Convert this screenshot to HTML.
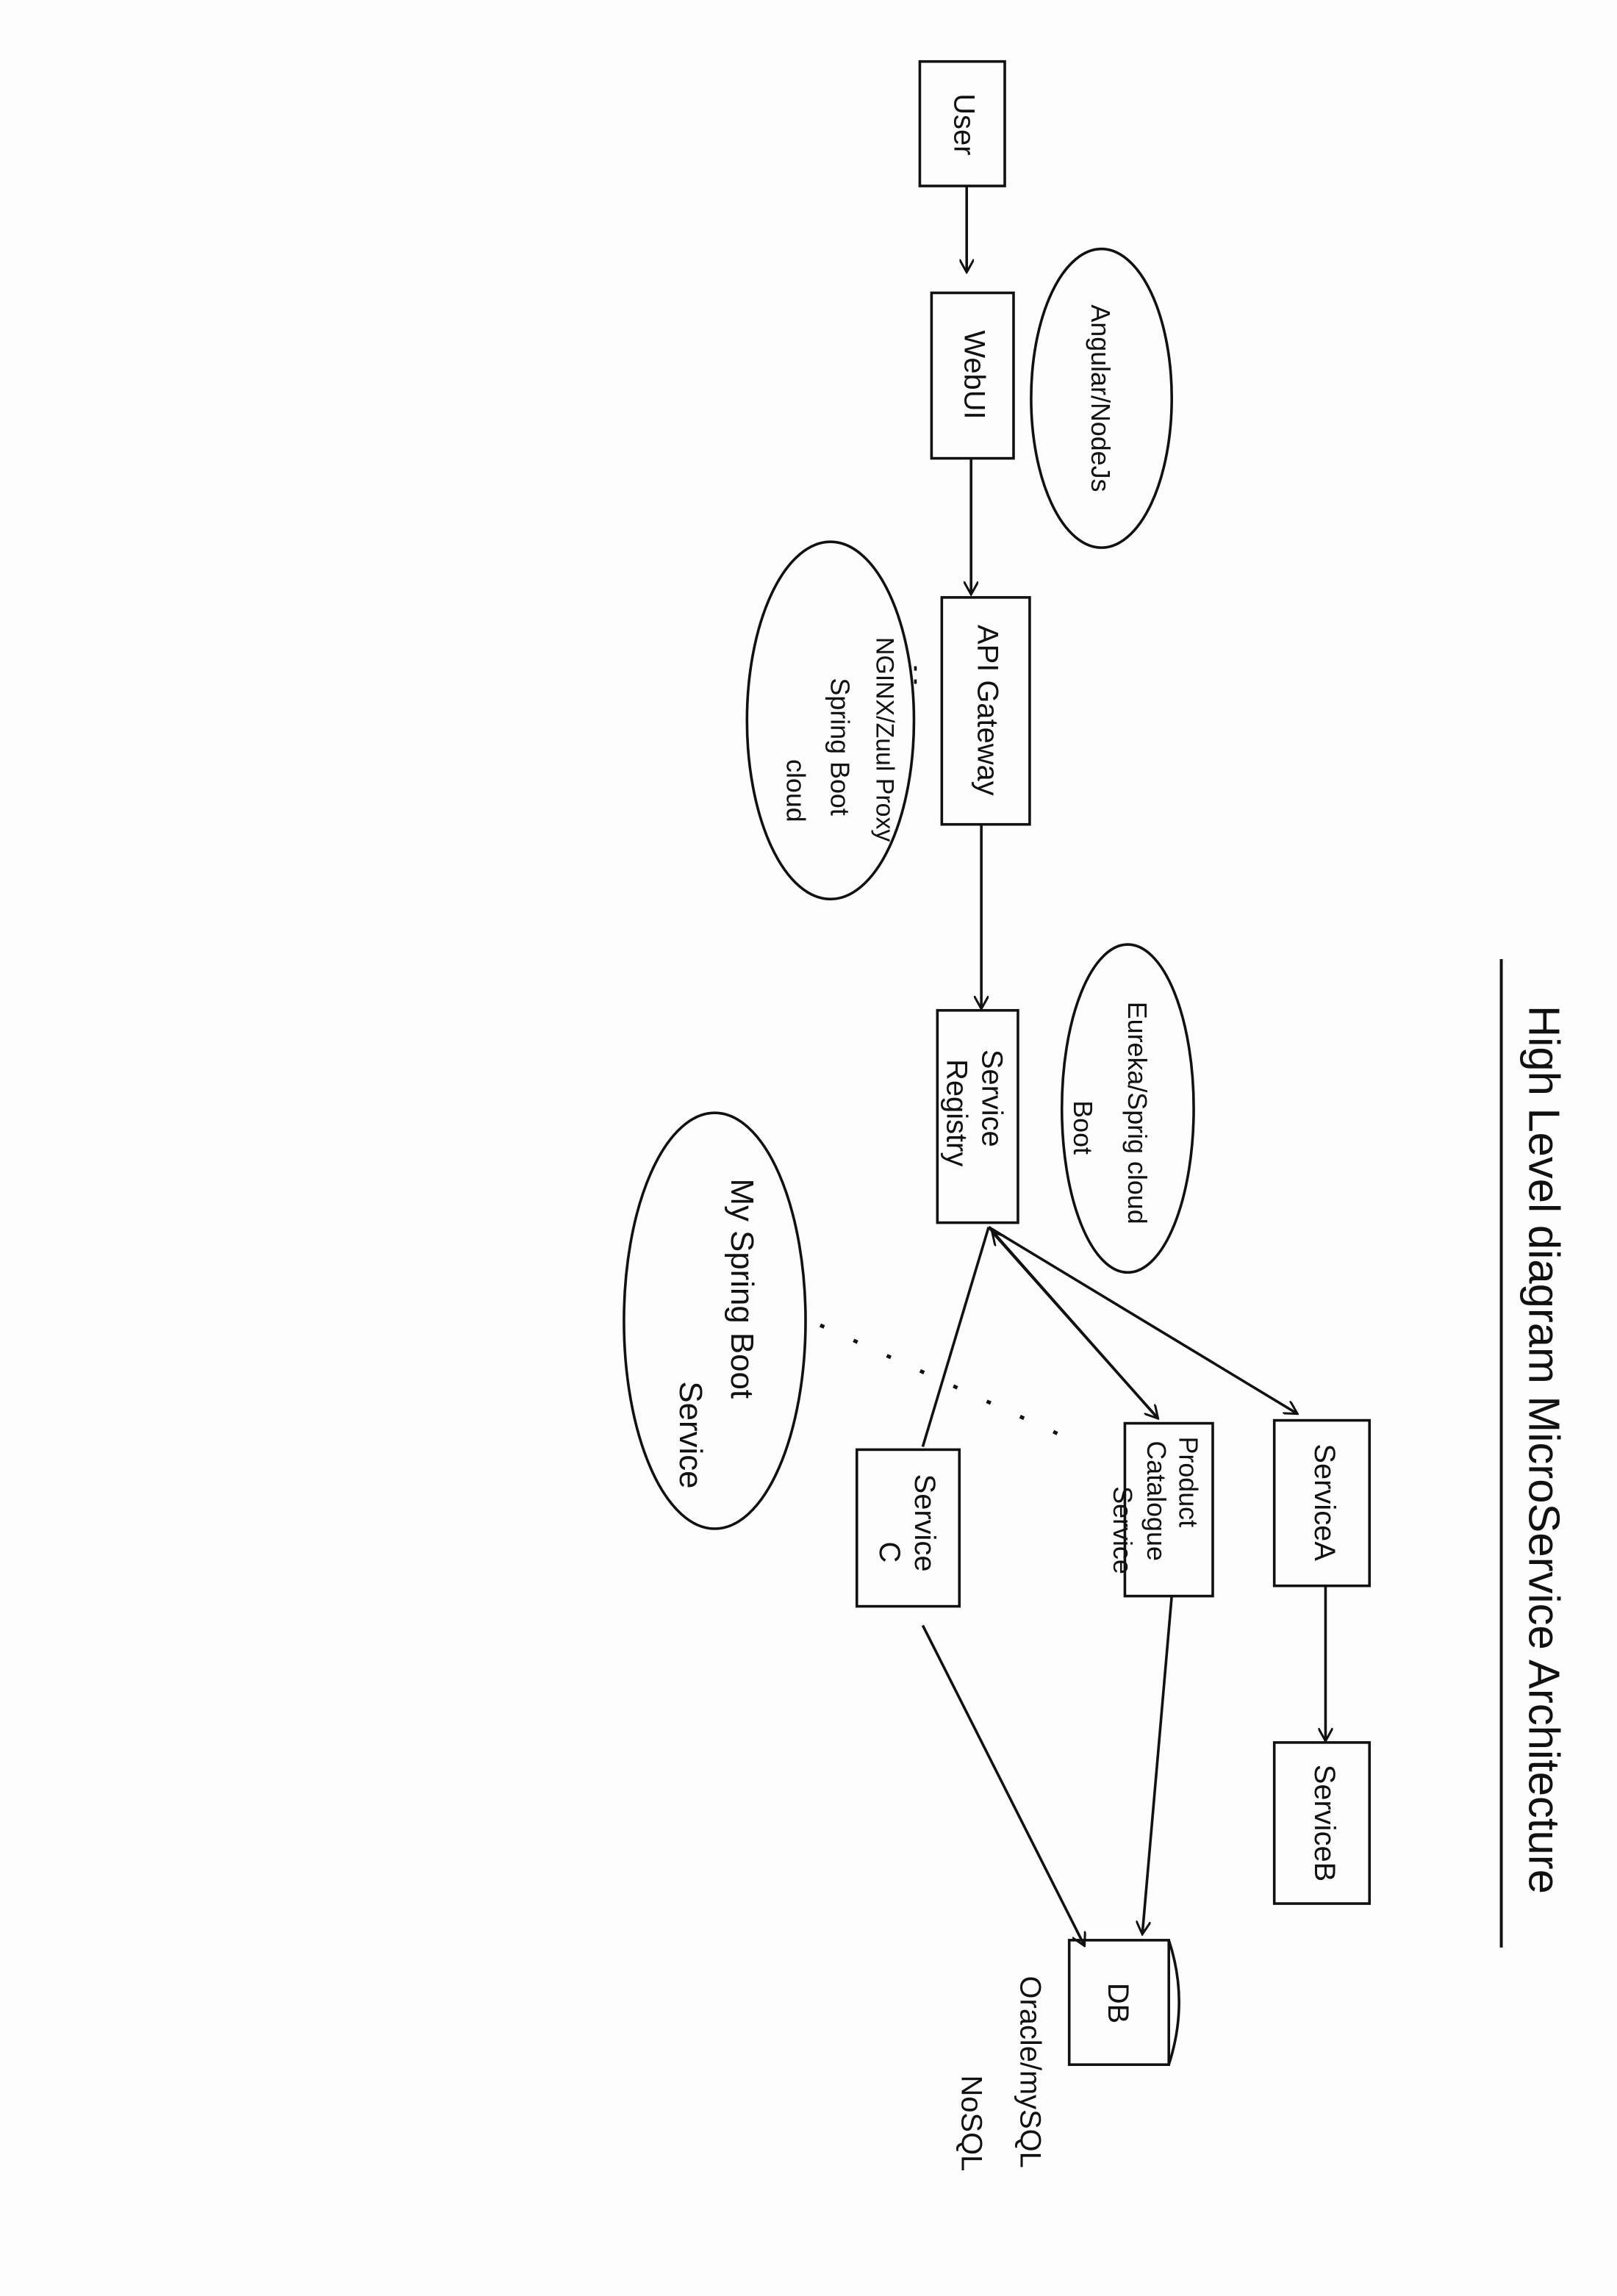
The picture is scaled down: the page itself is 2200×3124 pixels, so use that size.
<!DOCTYPE html>
<html><head><meta charset="utf-8"><style>
html,body{margin:0;padding:0;background:#fdfdfd;}
svg{display:block;}
text{font-family:"Liberation Sans",sans-serif;fill:#111;}
</style></head><body>
<svg width="2200" height="3124" viewBox="0 0 1104 1568" preserveAspectRatio="none" xmlns="http://www.w3.org/2000/svg">
<defs>
<marker id="a" markerWidth="10" markerHeight="10" refX="8" refY="5" orient="auto" markerUnits="userSpaceOnUse"><path d="M0,0 L9,5 L0,10" fill="none" stroke="#111" stroke-width="1.5"/></marker>
</defs>
<rect width="1104" height="1568" fill="#fdfdfd"/>
<g fill="none" stroke="#111" stroke-width="1.8">
<rect x="628" y="42" width="58" height="85"/>
<rect x="636" y="200" width="56" height="113"/>
<rect x="643" y="408" width="60" height="155"/>
<rect x="640" y="690" width="55" height="145"/>
<rect x="870" y="970" width="65" height="113"/>
<rect x="870" y="1190" width="65" height="110"/>
<rect x="768" y="972" width="60" height="118"/>
<rect x="585" y="990" width="70" height="107"/>
<rect x="730" y="1325" width="68" height="85"/>
<path d="M798,1325 Q812,1367 798,1410"/>
<ellipse cx="752" cy="272" rx="48" ry="102"/>
<ellipse cx="567" cy="492" rx="57" ry="122"/>
<ellipse cx="770" cy="757" rx="45" ry="112"/>
<ellipse cx="488" cy="902" rx="62" ry="142"/>
<line x1="660" y1="127" x2="660" y2="185" marker-end="url(#a)"/>
<line x1="663" y1="313" x2="663" y2="405" marker-end="url(#a)"/>
<line x1="670" y1="563" x2="670" y2="688" marker-end="url(#a)"/>
<line x1="675" y1="838" x2="885" y2="965" marker-end="url(#a)"/>
<line x1="675" y1="838" x2="790" y2="968" marker-end="url(#a)"/>
<line x1="790" y1="968" x2="678" y2="842" marker-end="url(#a)"/>
<line x1="675" y1="838" x2="630" y2="988"/>
<line x1="905" y1="1083" x2="905" y2="1188" marker-end="url(#a)"/>
<line x1="800" y1="1090" x2="780" y2="1320" marker-end="url(#a)"/>
<line x1="630" y1="1110" x2="740" y2="1328" marker-end="url(#a)"/>
<line x1="560" y1="905" x2="735" y2="985" stroke-dasharray="3,22" stroke-width="2.5"/>
<line x1="625" y1="455" x2="625" y2="470" stroke-dasharray="3,6"/>
<line x1="1025" y1="655" x2="1025" y2="1330" stroke-width="2"/>
</g>
<g font-size="20">
<text transform="translate(657,85) rotate(90)" text-anchor="middle" dominant-baseline="middle">User</text>
<text transform="translate(664,256) rotate(90)" text-anchor="middle" dominant-baseline="middle">WebUI</text>
<text transform="translate(750,272) rotate(90)" text-anchor="middle" dominant-baseline="middle" font-size="18">Angular/NodeJs</text>
<text transform="translate(673,485) rotate(90)" text-anchor="middle" dominant-baseline="middle">API Gateway</text>
<text transform="translate(603,505) rotate(90)" text-anchor="middle" dominant-baseline="middle" font-size="17">NGINX/Zuul Proxy</text>
<text transform="translate(572,510) rotate(90)" text-anchor="middle" dominant-baseline="middle" font-size="18">Spring Boot</text>
<text transform="translate(542,540) rotate(90)" text-anchor="middle" dominant-baseline="middle" font-size="18">cloud</text>
<text transform="translate(676,750) rotate(90)" text-anchor="middle" dominant-baseline="middle">Service</text>
<text transform="translate(652,760) rotate(90)" text-anchor="middle" dominant-baseline="middle">Registry</text>
<text transform="translate(775,760) rotate(90)" text-anchor="middle" dominant-baseline="middle" font-size="18">Eureka/Sprig cloud</text>
<text transform="translate(738,770) rotate(90)" text-anchor="middle" dominant-baseline="middle" font-size="18">Boot</text>
<text transform="translate(505,880) rotate(90)" text-anchor="middle" dominant-baseline="middle" font-size="22">My Spring Boot</text>
<text transform="translate(470,980) rotate(90)" text-anchor="middle" dominant-baseline="middle" font-size="22">Service</text>
<text transform="translate(903,1026) rotate(90)" text-anchor="middle" dominant-baseline="middle">ServiceA</text>
<text transform="translate(903,1245) rotate(90)" text-anchor="middle" dominant-baseline="middle">ServiceB</text>
<text transform="translate(810,1012) rotate(90)" text-anchor="middle" dominant-baseline="middle" font-size="18">Product</text>
<text transform="translate(788,1025) rotate(90)" text-anchor="middle" dominant-baseline="middle" font-size="18">Catalogue</text>
<text transform="translate(765,1045) rotate(90)" text-anchor="middle" dominant-baseline="middle" font-size="18">Service</text>
<text transform="translate(630,1040) rotate(90)" text-anchor="middle" dominant-baseline="middle">Service</text>
<text transform="translate(606,1060) rotate(90)" text-anchor="middle" dominant-baseline="middle">C</text>
<text transform="translate(762,1368) rotate(90)" text-anchor="middle" dominant-baseline="middle">DB</text>
<text transform="translate(702,1415) rotate(90)" text-anchor="middle" dominant-baseline="middle">Oracle/mySQL</text>
<text transform="translate(662,1450) rotate(90)" text-anchor="middle" dominant-baseline="middle">NoSQL</text>
<text transform="translate(1052,990) rotate(90)" text-anchor="middle" dominant-baseline="middle" font-size="30">High Level diagram MicroService Architecture</text>
</g>
</svg>
</body></html>
